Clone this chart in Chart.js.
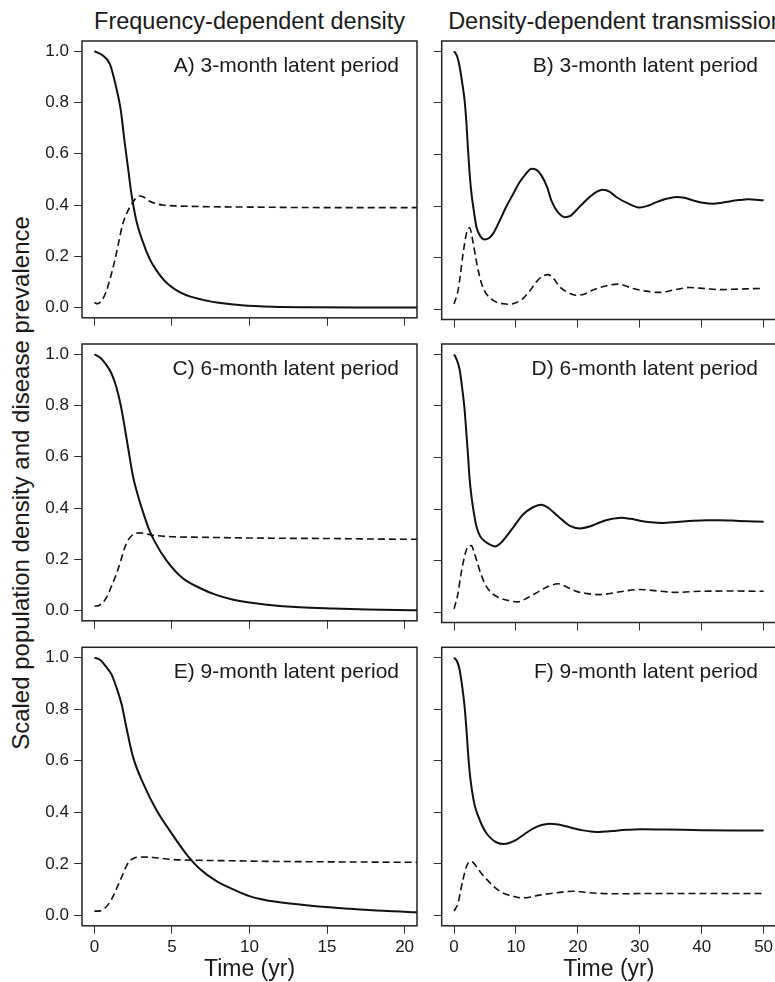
<!DOCTYPE html>
<html>
<head>
<meta charset="utf-8">
<script src="https://cdn.jsdelivr.net/npm/chart.js@4.4.1/dist/chart.umd.min.js"></script>
<style>
  html, body { margin: 0; padding: 0; background: #fff; overflow: hidden; }
  body { position: relative; width: 775px; height: 982px; font-family: "Liberation Sans", Arial, Helvetica, sans-serif; color: #1a1a1a; }
  canvas { position: absolute; }
  .coltitle { position: absolute; top: 7px; width: 600px; text-align: center; font-size: 23.5px; line-height: 28px; white-space: nowrap; }
  #ylab { position: absolute; left: -279px; top: 469px; width: 600px; text-align: center; font-size: 24px; line-height: 28px; white-space: nowrap; transform: rotate(-90deg); }
</style>
</head>
<body>
<div class="coltitle" style="left:-50.5px">Frequency-dependent density</div>
<div class="coltitle" style="left:316px">Density-dependent transmission</div>
<div id="ylab">Scaled population density and disease prevalence</div>

<script>
// --- data: time (yr) and value for each curve ---
// A) frequency-dependent, 3-month latent period
const aSolidT = [0, 0.5, 1.0, 1.4, 1.7, 1.94, 2.2, 2.37, 2.7, 3.1, 3.56, 4.0, 4.6, 5.7, 7.0, 7.9, 9.5, 11.5, 14, 17, 21];
const aSolidY = [1.0, 0.985, 0.95, 0.86, 0.77, 0.65, 0.53, 0.45, 0.34, 0.26, 0.19, 0.145, 0.10, 0.054, 0.03, 0.02, 0.009, 0.003, 0.001, 0.0, 0.0];
const aDashT = [0, 0.2, 0.5, 0.75, 1.0, 1.3, 1.55, 1.8, 2.1, 2.37, 2.65, 2.9, 3.2, 3.56, 4.0, 4.4, 5.5, 6.8, 10, 15, 21];
const aDashY = [0.02, 0.015, 0.03, 0.06, 0.11, 0.18, 0.25, 0.32, 0.37, 0.40, 0.425, 0.435, 0.43, 0.415, 0.405, 0.40, 0.396, 0.394, 0.392, 0.39, 0.39];

// B) density-dependent, 3-month latent period
const bSolidT = [0, 0.5, 0.9, 1.3, 1.7, 2.0, 2.26, 2.5, 2.8, 3.2, 3.6, 4.2, 4.95, 5.6, 6.3, 7.3, 8.4, 9.5, 10.6, 11.6, 12.5, 13.3, 14.1, 15.0, 15.7, 16.8, 17.9, 18.8, 19.7, 20.8, 21.9, 23.0, 24.05, 25.1, 26.2, 28.1, 30, 31.4, 32.7, 34.3, 35.9, 37.2, 38.6, 40.2, 41.8, 43.1, 44.5, 46, 47.5, 50];
const bSolidY = [1.0, 0.98, 0.94, 0.88, 0.81, 0.72, 0.615, 0.53, 0.45, 0.38, 0.32, 0.285, 0.27, 0.275, 0.293, 0.34, 0.396, 0.445, 0.493, 0.525, 0.545, 0.54, 0.519, 0.475, 0.422, 0.375, 0.357, 0.362, 0.383, 0.41, 0.435, 0.455, 0.463, 0.456, 0.435, 0.41, 0.394, 0.402, 0.415, 0.428, 0.435, 0.432, 0.422, 0.413, 0.409, 0.412, 0.418, 0.423, 0.426, 0.422];
const bDashT = [0, 0.65, 1.0, 1.45, 2.0, 2.5, 3.1, 3.5, 3.9, 4.5, 5.2, 6.0, 6.8, 8.0, 9.0, 10.0, 11.1, 12.2, 13.3, 14.3, 15.2, 16.1, 17.1, 18.4, 19.7, 21.0, 22.4, 24.5, 26.5, 28.9, 31, 33.2, 35.6, 38, 40.5, 42.9, 46, 49.3, 50];
const bDashY = [0.02, 0.074, 0.13, 0.215, 0.293, 0.316, 0.254, 0.2, 0.15, 0.095, 0.06, 0.04, 0.028, 0.021, 0.019, 0.025, 0.041, 0.07, 0.106, 0.128, 0.134, 0.118, 0.086, 0.065, 0.054, 0.058, 0.074, 0.09, 0.097, 0.08, 0.07, 0.065, 0.075, 0.084, 0.08, 0.076, 0.078, 0.08, 0.08];

// C) frequency-dependent, 6-month latent period
const cSolidT = [0, 0.4, 0.75, 1.1, 1.4, 1.7, 1.94, 2.2, 2.48, 2.8, 3.13, 3.5, 3.9, 4.63, 5.7, 6.8, 7.8, 8.9, 10, 11.1, 13.25, 15.4, 17.6, 19.5, 21];
const cSolidY = [1.0, 0.985, 0.96, 0.925, 0.875, 0.8, 0.72, 0.625, 0.526, 0.45, 0.385, 0.32, 0.268, 0.197, 0.126, 0.088, 0.062, 0.043, 0.031, 0.023, 0.013, 0.008, 0.004, 0.002, 0.001];
const cDashT = [0, 0.3, 0.6, 0.86, 1.1, 1.4, 1.7, 1.94, 2.15, 2.37, 2.6, 2.9, 3.3, 3.77, 5.06, 7, 8.9, 12, 15.4, 18, 21];
const cDashY = [0.017, 0.02, 0.035, 0.06, 0.095, 0.14, 0.195, 0.243, 0.272, 0.29, 0.3, 0.303, 0.3, 0.294, 0.288, 0.286, 0.284, 0.282, 0.281, 0.279, 0.278];

// D) density-dependent, 6-month latent period
const dSolidT = [0, 0.5, 0.9, 1.3, 1.7, 2.0, 2.26, 2.5, 2.8, 3.2, 3.6, 4.2, 4.95, 5.8, 6.6, 7.5, 8.45, 9.8, 11.1, 12.6, 14.1, 15.3, 16.5, 17.6, 18.7, 20.3, 21.9, 23.5, 25.2, 27, 28.5, 30, 31.8, 33.7, 36, 38.6, 40.8, 42.9, 46, 50];
const dSolidY = [1.0, 0.975, 0.94, 0.87, 0.785, 0.69, 0.604, 0.52, 0.45, 0.385, 0.333, 0.295, 0.275, 0.262, 0.255, 0.267, 0.294, 0.337, 0.378, 0.405, 0.417, 0.403, 0.378, 0.355, 0.335, 0.325, 0.332, 0.348, 0.36, 0.366, 0.362, 0.355, 0.349, 0.346, 0.35, 0.355, 0.357, 0.357, 0.354, 0.351];
const dDashT = [0, 0.65, 1.0, 1.45, 1.9, 2.26, 2.8, 3.2, 3.6, 4.3, 5.2, 6.2, 7.4, 8.8, 10.3, 11.8, 13.3, 15, 16.8, 18.2, 19.7, 21.5, 23.5, 26.5, 30, 33, 35.9, 39.7, 45, 50];
const dDashY = [0.013, 0.075, 0.13, 0.19, 0.235, 0.255, 0.258, 0.235, 0.204, 0.15, 0.1, 0.072, 0.055, 0.045, 0.04, 0.055, 0.075, 0.098, 0.11, 0.098, 0.081, 0.072, 0.068, 0.078, 0.088, 0.082, 0.077, 0.081, 0.082, 0.081];

// E) frequency-dependent, 9-month latent period
const eSolidT = [0, 0.4, 0.75, 1.1, 1.4, 1.75, 2.05, 2.48, 3.13, 3.99, 4.96, 6.03, 6.8, 7.87, 9, 10, 11, 12.2, 14.3, 16.5, 18.6, 21];
const eSolidY = [1.0, 0.99, 0.965, 0.935, 0.888, 0.82, 0.733, 0.617, 0.514, 0.41, 0.32, 0.23, 0.18, 0.133, 0.1, 0.075, 0.06, 0.049, 0.036, 0.026, 0.018, 0.012];
const eDashT = [0, 0.3, 0.6, 0.97, 1.25, 1.5, 1.8, 2.05, 2.25, 2.48, 2.9, 3.77, 5.06, 6.8, 9, 11.1, 15, 18, 21];
const eDashY = [0.017, 0.017, 0.025, 0.049, 0.08, 0.114, 0.155, 0.19, 0.21, 0.22, 0.227, 0.225, 0.217, 0.214, 0.212, 0.21, 0.208, 0.207, 0.206];

// F) density-dependent, 9-month latent period
const fSolidT = [0, 0.5, 0.9, 1.3, 1.7, 2.0, 2.26, 2.5, 2.8, 3.3, 3.9, 4.5, 5.2, 6.0, 6.8, 8.0, 9.0, 10.1, 11.4, 12.75, 14.0, 15.4, 16.8, 18.1, 19.5, 20.8, 22.1, 23.5, 24.8, 26.2, 28, 30, 34.3, 40, 45, 50];
const fSolidY = [1.0, 0.985, 0.952, 0.89, 0.81, 0.72, 0.63, 0.56, 0.5, 0.43, 0.385, 0.35, 0.32, 0.298, 0.284, 0.277, 0.282, 0.294, 0.316, 0.337, 0.35, 0.356, 0.353, 0.346, 0.337, 0.33, 0.326, 0.324, 0.326, 0.329, 0.332, 0.334, 0.333, 0.331, 0.33, 0.33];
const fDashT = [0, 0.65, 1.0, 1.45, 2.0, 2.6, 3.1, 3.6, 4.3, 5.2, 6.3, 7.4, 8.4, 9.5, 11.1, 12.4, 13.8, 16.5, 19.2, 21.9, 26.2, 30, 40, 50];
const fDashY = [0.017, 0.049, 0.09, 0.14, 0.19, 0.21, 0.205, 0.19, 0.167, 0.142, 0.115, 0.094, 0.082, 0.075, 0.068, 0.072, 0.079, 0.088, 0.094, 0.088, 0.084, 0.085, 0.085, 0.085];

// tick labels
const yTicks = [0, 0.2, 0.4, 0.6, 0.8, 1.0];
const xTicksFreq = [0, 5, 10, 15, 20];
const xTicksDens = [0, 10, 20, 30, 40, 50];
const panelLabels = ['A) 3-month latent period', 'B) 3-month latent period', 'C) 6-month latent period',
                     'D) 6-month latent period', 'E) 9-month latent period', 'F) 9-month latent period'];

const FONT = '"Liberation Sans", Arial, Helvetica, sans-serif';
Chart.defaults.font.family = FONT;
Chart.defaults.color = '#1a1a1a';

const toPts = (ts, ys) => ts.map((t, i) => ({ x: t, y: ys[i] }));

// draws the full box round the plot area and the panel letter
const panelFrame = {
    id: 'panelFrame',
    afterDraw(chart, args, opts) {
        const { ctx, chartArea: a } = chart;
        ctx.save();
        ctx.strokeStyle = '#222';
        ctx.lineWidth = 1.5;
        ctx.strokeRect(a.left, a.top, a.right - a.left, a.bottom - a.top);
        ctx.font = '21px ' + FONT;
        ctx.fillStyle = '#1a1a1a';
        ctx.textAlign = 'right';
        ctx.textBaseline = 'middle';
        ctx.fillText(opts.label, a.right - 18, a.top + 25);
        ctx.restore();
    }
};

const cols = [
    { left: 0, width: 420, axisW: 82, padRight: 3, xMin: -0.8, xMax: 20.8, xTicks: xTicksFreq },
    { left: 420, width: 360, axisW: 21.7, padRight: 4, xMin: -2, xMax: 52, xTicks: xTicksDens }
];
const boxTops = [41, 344, 647.3];
const boxH = 278.5;

const panels = [
    [toPts(aSolidT, aSolidY), toPts(aDashT, aDashY)],
    [toPts(bSolidT, bSolidY), toPts(bDashT, bDashY)],
    [toPts(cSolidT, cSolidY), toPts(cDashT, cDashY)],
    [toPts(dSolidT, dSolidY), toPts(dDashT, dDashY)],
    [toPts(eSolidT, eSolidY), toPts(eDashT, eDashY)],
    [toPts(fSolidT, fSolidY), toPts(fDashT, fDashY)]
];

panels.forEach((series, i) => {
    const row = Math.floor(i / 2);
    const col = cols[i % 2];
    const last = row === 2;
    const canvasTop = Math.floor(boxTops[row]) - 16;
    const padTop = boxTops[row] - canvasTop;
    const canvasH = last ? 982 - canvasTop : Math.ceil(padTop + boxH + 13);
    const xAxisH = canvasH - padTop - boxH;

    const cv = document.createElement('canvas');
    cv.width = col.width;
    cv.height = canvasH;
    cv.style.left = col.left + 'px';
    cv.style.top = canvasTop + 'px';
    document.body.appendChild(cv);

    new Chart(cv.getContext('2d'), {
        type: 'line',
        data: {
            datasets: [
                {
                    data: series[0],
                    borderColor: '#111',
                    borderWidth: 2,
                    pointRadius: 0,
                    cubicInterpolationMode: 'monotone'
                },
                {
                    data: series[1],
                    borderColor: '#111',
                    borderWidth: 1.6,
                    borderDash: [7, 4],
                    pointRadius: 0,
                    cubicInterpolationMode: 'monotone'
                }
            ]
        },
        options: {
            responsive: false,
            animation: false,
            events: [],
            layout: { padding: { top: padTop, right: col.padRight, left: 0, bottom: 0 } },
            plugins: {
                legend: { display: false },
                tooltip: { enabled: false },
                panelFrame: { label: panelLabels[i] }
            },
            scales: {
                x: {
                    type: 'linear',
                    min: col.xMin,
                    max: col.xMax,
                    afterBuildTicks: s => { s.ticks = col.xTicks.map(v => ({ value: v })); },
                    afterFit: s => { s.height = xAxisH; },
                    grid: { drawOnChartArea: false, drawTicks: true, tickLength: 8, color: '#333', lineWidth: 1 },
                    border: { display: false },
                    ticks: { display: last, maxRotation: 0, padding: 3, font: { size: 17 } },
                    title: {
                        display: last,
                        text: 'Time (yr)',
                        font: { size: 23, lineHeight: 1.1 },
                        padding: { top: 0, bottom: 0 }
                    }
                },
                y: {
                    min: -0.04,
                    max: 1.04,
                    afterBuildTicks: s => { s.ticks = yTicks.map(v => ({ value: v })); },
                    afterFit: s => { s.width = col.axisW; },
                    grid: { drawOnChartArea: false, drawTicks: true, tickLength: 8, color: '#333', lineWidth: 1 },
                    border: { display: false },
                    ticks: {
                        display: i % 2 === 0,
                        padding: 5,
                        font: { size: 17 },
                        callback: v => v.toFixed(1)
                    }
                }
            }
        },
        plugins: [panelFrame]
    });
});
</script>
</body>
</html>
